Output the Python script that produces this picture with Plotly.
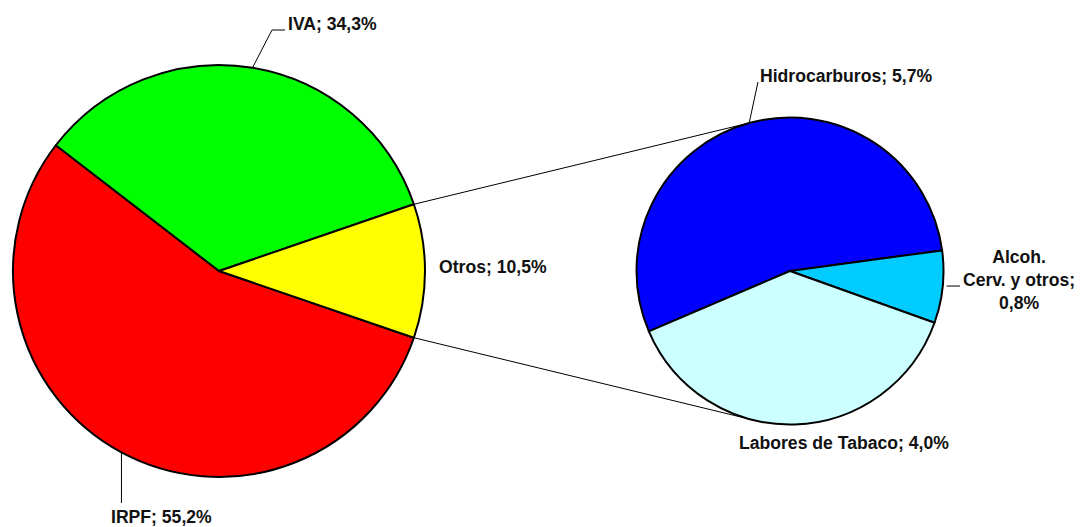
import math
import plotly.graph_objects as go

# Recaudación: reparto principal y desglose de "Otros"
main_labels = ["IRPF", "IVA", "Otros"]
main_values = [55.2, 34.3, 10.5]
main_colors = ["#FF0000", "#00FF00", "#FFFF00"]

sub_labels = ["Hidrocarburos", "Alcoh.<br>Cerv. y otros;", "Labores de Tabaco"]
sub_values = [5.7, 0.8, 4.0]
sub_colors = ["#0000FF", "#00CCFF", "#CCFFFF"]

W, H = 1080, 527

# Geometry of both pies in pixels
C1, R1 = (219.0, 271.0), 206.0
C2, R2 = (790.0, 271.0), 153.5


def px(x):
    return x / W


def py(y):
    return 1 - y / H


def fmt(v):
    return f"{v:.1f}".replace(".", ",") + "%"


def pt(center, r, ang):
    """Point on a circle, angle in degrees clockwise from 12 o'clock."""
    return (center[0] + r * math.sin(math.radians(ang)),
            center[1] - r * math.cos(math.radians(ang)))


tot1 = sum(main_values)
otros_deg = main_values[2] / tot1 * 360
rot1 = 90 + otros_deg / 2  # "Otros" centred at 3 o'clock

tot2 = sum(sub_values)
alc_mid = 96.0
rot2 = alc_mid - sub_values[1] / tot2 * 180 - sub_values[0] / tot2 * 360


def mid_angles(values, rot):
    tot = sum(values)
    out, a = [], rot
    for v in values:
        d = v / tot * 360
        out.append(a + d / 2)
        a += d
    return out


mid1 = mid_angles(main_values, rot1)
mid2 = mid_angles(sub_values, rot2)

fig = go.Figure()
fig.add_trace(go.Pie(
    labels=main_labels, values=main_values, sort=False, direction="clockwise",
    rotation=rot1, textinfo="none", hoverinfo="label+percent",
    marker=dict(colors=main_colors, line=dict(color="#000000", width=2)),
    domain=dict(x=[px(C1[0] - R1), px(C1[0] + R1)], y=[py(C1[1] + R1), py(C1[1] - R1)]),
    showlegend=False,
))
fig.add_trace(go.Pie(
    labels=sub_labels, values=sub_values, sort=False, direction="clockwise",
    rotation=rot2, textinfo="none", hoverinfo="label+value",
    marker=dict(colors=sub_colors, line=dict(color="#000000", width=2)),
    domain=dict(x=[px(C2[0] - R2), px(C2[0] + R2)], y=[py(C2[1] + R2), py(C2[1] - R2)]),
    showlegend=False,
))

shapes = []


def line_path(points):
    d = "M " + " L ".join(f"{px(x):.5f},{py(y):.5f}" for x, y in points)
    return dict(type="path", path=d, xref="paper", yref="paper",
                line=dict(color="#000000", width=1), layer="below")


# Connectors from the "Otros" slice edges to the secondary pie
p_top = pt(C1, R1, 90 - otros_deg / 2)
p_bot = pt(C1, R1, 90 + otros_deg / 2)
q_top = pt(C2, R2, 360 - 14.4)
q_bot = pt(C2, R2, 180 + 14.4)
shapes.append(line_path([p_top, q_top]))
shapes.append(line_path([p_bot, q_bot]))

# Leader lines
iva_p = pt(C1, R1, mid1[1])
shapes.append(line_path([iva_p, (272, 30), (285, 30)]))
irpf_p = pt(C1, R1, mid1[0])
shapes.append(line_path([irpf_p, (irpf_p[0], 503)]))
hid_p = pt(C2, R2, mid2[0])
shapes.append(line_path([hid_p, (758, 82)]))
alc_p = pt(C2, R2, mid2[1])
shapes.append(line_path([(alc_p[0] + 4, alc_p[1] - 1), (960, alc_p[1] - 1)]))

font = dict(family="Liberation Sans, Arial, sans-serif", size=17.6, color="#111111", weight="bold")

annotations = [
    dict(text=f"{main_labels[1]}; {fmt(main_values[1])}", x=px(286), y=py(24), xanchor="left"),
    dict(text=f"{main_labels[0]}; {fmt(main_values[0])}", x=px(109), y=py(517), xanchor="left"),
    dict(text=f"{main_labels[2]}; {fmt(main_values[2])}", x=px(437), y=py(267), xanchor="left"),
    dict(text=f"{sub_labels[0]}; {fmt(sub_values[0])}", x=px(758), y=py(76), xanchor="left"),
    dict(text=f"{sub_labels[1]}<br>{fmt(sub_values[1])}", x=px(1019), y=py(280), xanchor="center", align="center"),
    dict(text=f"{sub_labels[2]}; {fmt(sub_values[2])}", x=px(737), y=py(443), xanchor="left"),
]
for a in annotations:
    a.update(xref="paper", yref="paper", yanchor="middle", showarrow=False, font=font)

fig.update_layout(
    width=W, height=H,
    margin=dict(l=0, r=0, t=0, b=0),
    paper_bgcolor="#FFFFFF", plot_bgcolor="#FFFFFF",
    shapes=shapes, annotations=annotations,
)

fig.write_html("out.html")
